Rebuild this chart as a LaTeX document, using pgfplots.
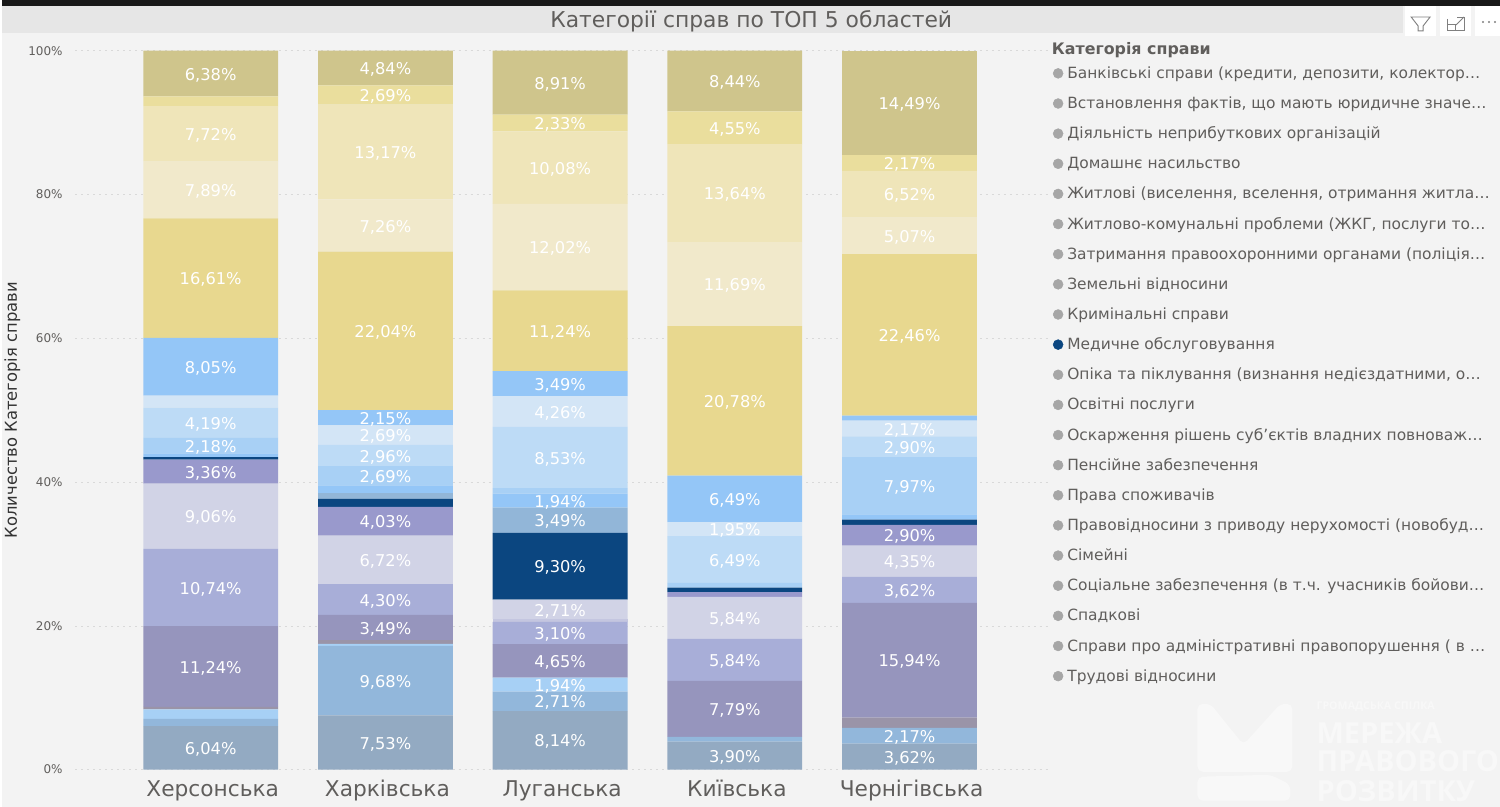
\documentclass[border=0pt]{standalone}
\usepackage{fontspec}
\setmainfont{DejaVu Sans}
\newfontfamily\wmfont{Open Sans}
\usepackage{pgfplots}
\usepackage{pgfplotstable}
\pgfplotsset{compat=1.18}

\definecolor{pagebg}{HTML}{F3F3F3}
\definecolor{titlebg}{HTML}{E6E6E6}
\definecolor{txt}{HTML}{605E5C}
\definecolor{legdot}{HTML}{A6A6A6}
\definecolor{navy}{HTML}{0B4680}
\definecolor{wm}{HTML}{F8F8F8}
% series colours, bottom of the stack first
\definecolor{cs1}{HTML}{93AAC2}
\definecolor{cs2}{HTML}{92B7DB}
\definecolor{cs3}{HTML}{A7D0F5}
\definecolor{cs4}{HTML}{9A94A8}
\definecolor{cs5}{HTML}{9695BD}
\definecolor{cs6}{HTML}{A8AED8}
\definecolor{cs6b}{HTML}{C4C6E0}
\definecolor{cs7}{HTML}{D1D3E6}
\definecolor{cs8}{HTML}{9999CC}
\definecolor{cs10}{HTML}{0B4680}
\definecolor{cs11}{HTML}{92B6D8}
\definecolor{cs12}{HTML}{94C6F7}
\definecolor{cs13}{HTML}{A8D0F5}
\definecolor{cs14}{HTML}{BDDBF6}
\definecolor{cs15}{HTML}{D3E5F6}
\definecolor{cs16}{HTML}{94C6F7}
\definecolor{cs17}{HTML}{E8D88F}
\definecolor{cs18}{HTML}{F1E9CB}
\definecolor{cs19}{HTML}{EFE5B9}
\definecolor{cs20}{HTML}{EADE9D}
\definecolor{cs21}{HTML}{CFC58C}

% share of each category, one row per oblast (s6b: unlabelled sliver in Луганська)
\pgfplotstableread{
x s1 s2 s3 s4 s5 s6 s6b s7 s8 s10 s11 s12 s13 s14 s15 s16 s17 s18 s19 s20 s21
0 6.04 1.01 1.34 0.34 11.24 10.74 0 9.06 3.36 0.34 0 0.50 2.18 4.19 1.68 8.05 16.61 7.89 7.72 1.35 6.38
1 7.53 9.68 0.27 0.54 3.49 4.30 0 6.72 4.03 1.08 0.81 1.08 2.69 2.96 2.69 2.15 22.04 7.26 13.17 2.69 4.84
2 8.14 2.71 1.94 0 4.65 3.10 0.39 2.71 0 9.30 3.49 1.94 0.78 8.53 4.26 3.49 11.24 12.02 10.08 2.33 8.91
3 3.90 0.65 0 0 7.79 5.84 0 5.84 0.65 0.65 0 0 0.65 6.49 1.95 6.49 20.78 11.69 13.64 4.55 8.44
4 3.62 2.17 0 1.45 15.94 3.62 0 4.35 2.90 0.72 0 0.72 7.97 2.90 2.17 0.72 22.46 5.07 6.52 2.17 14.49
}\datatable

\pgfplotsset{dot/.style={legend image code/.code={\fill[#1] (0pt,0.8pt) circle (3.7pt);}}}

\begin{document}
\begin{tikzpicture}[x=0.75pt,y=0.75pt]
% screenshot frame, 1 unit = 1 reference pixel, y counted from the bottom
\fill[pagebg] (0,0) rectangle (1500,808);
\fill[titlebg] (0,775) rectangle (1403,803);
\fill[black!90] (0,802) rectangle (1500,808);
\node[text=txt,font=\fontsize{16.4pt}{18pt}\selectfont] at (750,787) {Категорії справ по ТОП 5 областей};
% visual header icons
\fill[white] (1405,772) rectangle (1436,802);
\fill[white] (1440,772) rectangle (1471,802);
\fill[white] (1475,772) rectangle (1500,802);
\draw[gray,line width=0.7pt] (1411,791) -- (1430,791) -- (1423,782) -- (1423,777) -- (1418,777) -- (1418,782) -- cycle;
\draw[gray,line width=0.7pt] (1447,789) -- (1447,777) -- (1464,777) -- (1464,791) -- (1457,791);
\draw[gray,line width=0.7pt] (1447,783) -- (1455,783) -- (1455,777);
\draw[gray,line width=0.7pt] (1456,783) -- (1464,791);
\fill[gray] (1483,786) circle (1.1) (1489,786) circle (1.1) (1495,786) circle (1.1);
% faint watermark
\fill[wm,rounded corners=4pt] (1197,103) -- (1197,35) -- (1292,35) -- (1292,103) -- (1280,103) -- (1243,62) -- (1210,103) -- cycle;
\fill[wm,rounded corners=4pt] (1197,30) -- (1197,6) -- (1290,6) -- (1290,22) -- (1270,32) -- cycle;
\node[text=wm,anchor=base west,inner sep=0,font=\wmfont\bfseries\fontsize{8pt}{9pt}\selectfont] at (1316,97) {ГРОМАДСЬКА СПІЛКА};
\node[text=wm,anchor=base west,inner sep=0,font=\wmfont\bfseries\fontsize{21.8pt}{24pt}\selectfont] at (1316,63) {МЕРЕЖА};
\node[text=wm,anchor=base west,inner sep=0,font=\wmfont\bfseries\fontsize{21.8pt}{24pt}\selectfont] at (1316,35) {ПРАВОВОГО};
\node[text=wm,anchor=base west,inner sep=0,font=\wmfont\bfseries\fontsize{21.8pt}{24pt}\selectfont] at (1316,5) {РОЗВИТКУ};

\begin{axis}[
    at={(54.75pt,27.9pt)}, anchor=south west,
    scale only axis,
    width=732.75pt, height=540pt,
    ybar stacked,
    bar width=101.25pt,
    xmin=-0.775, xmax=4.808,
    ymin=0, ymax=100,
    clip=false,
    axis line style={draw=none},
    tick style={draw=none},
    xtick=data,
    xticklabels={Херсонська,Харківська,Луганська,Київська,Чернігівська},
    xticklabel style={font=\fontsize{16.3pt}{20pt}\selectfont, text=txt, yshift=-4.5pt, xshift=1.5pt},
    ytick={0,20,40,60,80,100},
    yticklabel={\pgfmathprintnumber[assume math mode=true]{\tick}\%},
    yticklabel style={font=\fontsize{9pt}{11pt}\selectfont, text=txt, xshift=-6pt},
    ymajorgrids,
    grid style={dash pattern=on 1.5pt off 3pt, color=black!15},
    ylabel={Количество Категорія справи},
    every axis y label/.style={at={(axis description cs:-0.0645,0.5)}, rotate=90, anchor=center},
    ylabel style={font=\fontsize{12.3pt}{14pt}\selectfont, text=black!80},
    nodes near coords={\pgfmathfloattofixed{\pgfplotspointmeta}\let\v\pgfmathresult\ifdim\v pt<1.9pt\else\pgfmathprintnumber[fixed,fixed zerofill,precision=2,use comma,assume math mode=true]{\v}\%\fi},
    nodes near coords style={text=white, font=\fontsize{12.2pt}{15pt}\selectfont, anchor=center, yshift=-1.2pt},
    legend cell align=left,
    legend style={
        at={(axis description cs:1.002,0.9785)}, anchor=north west,
        draw=none, fill=none, inner sep=0pt,
        font=\fontsize{11.6pt}{13pt}\selectfont, text=txt,
        row sep=10.64pt,
        /tikz/column 1/.style={column sep=3pt},
        nodes={inner sep=0pt, text height=9pt, text depth=3pt},
    },
]
\pgfplotsinvokeforeach{s1,s2,s3,s4,s5,s6,s6b,s7,s8,s10,s11,s12,s13,s14,s15,s16,s17,s18,s19,s20,s21}{
    \addplot[forget plot, draw=none, fill=c#1] table[x=x,y=#1]{\datatable};
}
\addlegendimage{dot=legdot}\addlegendentry{Банківські справи (кредити, депозити, колектор…}
\addlegendimage{dot=legdot}\addlegendentry{Встановлення фактів, що мають юридичне значе…}
\addlegendimage{dot=legdot}\addlegendentry{Діяльність неприбуткових організацій}
\addlegendimage{dot=legdot}\addlegendentry{Домашнє насильство}
\addlegendimage{dot=legdot}\addlegendentry{Житлові (виселення, вселення, отримання житла…}
\addlegendimage{dot=legdot}\addlegendentry{Житлово-комунальні проблеми (ЖКГ, послуги то…}
\addlegendimage{dot=legdot}\addlegendentry{Затримання правоохоронними органами (поліція…}
\addlegendimage{dot=legdot}\addlegendentry{Земельні відносини}
\addlegendimage{dot=legdot}\addlegendentry{Кримінальні справи}
\addlegendimage{dot=navy}\addlegendentry{Медичне обслуговування}
\addlegendimage{dot=legdot}\addlegendentry{Опіка та піклування (визнання недієздатними, о…}
\addlegendimage{dot=legdot}\addlegendentry{Освітні послуги}
\addlegendimage{dot=legdot}\addlegendentry{Оскарження рішень суб’єктів владних повноваж…}
\addlegendimage{dot=legdot}\addlegendentry{Пенсійне забезпечення}
\addlegendimage{dot=legdot}\addlegendentry{Права споживачів}
\addlegendimage{dot=legdot}\addlegendentry{Правовідносини з приводу нерухомості (новобуд…}
\addlegendimage{dot=legdot}\addlegendentry{Сімейні}
\addlegendimage{dot=legdot}\addlegendentry{Соціальне забезпечення (в т.ч. учасників бойови…}
\addlegendimage{dot=legdot}\addlegendentry{Спадкові}
\addlegendimage{dot=legdot}\addlegendentry{Справи про адміністративні правопорушення ( в …}
\addlegendimage{dot=legdot}\addlegendentry{Трудові відносини}
\end{axis}
\node[anchor=base west,inner sep=0,text=txt,font=\bfseries\fontsize{11.9pt}{13pt}\selectfont] at (1051,753) {Категорія справи};
\end{tikzpicture}
\end{document}
